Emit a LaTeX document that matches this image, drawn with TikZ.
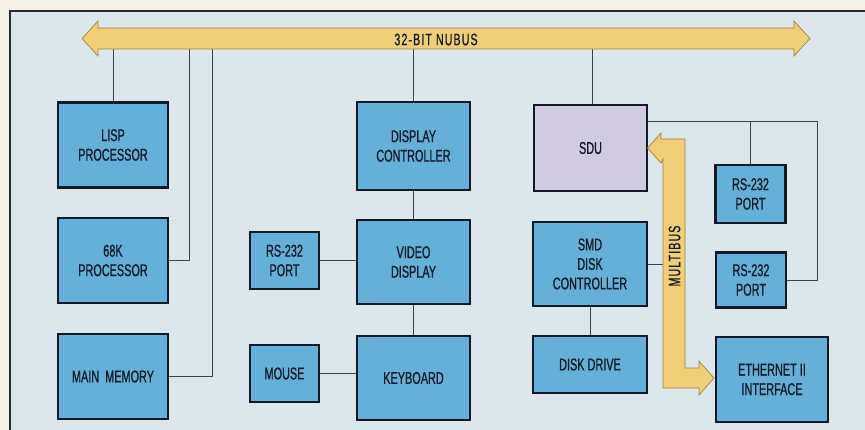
\documentclass[tikz,border=0pt]{standalone}
\usepackage{fontspec}
\setmainfont{Liberation Sans}[FakeStretch=0.64, FakeBold=0.8]
\usepackage{tikz}
\usetikzlibrary{positioning,calc}
\definecolor{paper}{RGB}{243,241,231}
\definecolor{panel}{RGB}{220,231,235}
\definecolor{frameink}{RGB}{40,44,50}
\definecolor{boxblue}{RGB}{100,176,216}
\definecolor{boxink}{RGB}{18,26,40}
\definecolor{sdulilac}{RGB}{208,203,224}
\definecolor{busyellow}{RGB}{240,206,118}
\definecolor{busedge}{RGB}{160,130,70}
\definecolor{wireink}{RGB}{60,66,72}
\tikzset{
  blk/.style={draw=boxink, fill=boxblue, line width=2.2pt, inner sep=0pt,
              minimum width=110pt, minimum height=85pt, align=center,
              text=boxink, font=\fontsize{17}{19.5}\selectfont},
  port/.style={blk, minimum width=69pt, minimum height=57pt},
  sdubox/.style={blk, fill=sdulilac},
  wire/.style={wireink, line width=0.8pt},
  bus/.style={draw=busedge, fill=busyellow, line width=0.7pt, line join=miter},
  buslab/.style={text=boxink, font=\fontsize{16.5}{17}\selectfont\addfontfeatures{LetterSpace=7}, inner sep=0pt},
}

\begin{document}
\begin{tikzpicture}[x=1pt, y=-1pt]
  \useasboundingbox (0,0) rectangle (865,430);
  \clip (0,0) rectangle (865,430);
  \fill[paper] (0,0) rectangle (865,430);
  \draw[frameink, fill=panel, line width=2pt] (10,11) rectangle (880,445);

  % left column
  \node[blk] (lisp) at (113,145) {LISP\\PROCESSOR};
  \node[blk] (cpu68) at (113,260.5) {68K\\PROCESSOR};
  \node[blk] (mainmem) at (113,376.5) {MAIN\ \ MEMORY};

  % display column
  \node[blk, minimum width=113pt, minimum height=88pt] (dispctl) at (413.5,146) {DISPLAY\\CONTROLLER};
  \node[blk, minimum width=113pt, minimum height=84pt] (video) at (413.5,262) {VIDEO\\DISPLAY};
  \node[blk, minimum width=113pt, minimum height=84pt] (keybd) at (413.5,378) {KEYBOARD};
  \node[port] (rsvid) at (284.5,260.5) {RS-232\\PORT};
  \node[port] (mouse) at (284.5,373.5) {MOUSE};

  % SDU column
  \node[sdubox, minimum width=113pt, minimum height=86pt] (sdu) at (590.5,148) {SDU};
  \node[blk, minimum width=114pt, minimum height=84pt] (smd) at (590,264) {SMD\\DISK\\CONTROLLER};
  \node[blk, minimum width=114pt, minimum height=57pt] (disk) at (590,364.5) {DISK\ DRIVE};

  % right column
  \node[port, minimum width=70pt, minimum height=58pt] (rsa) at (750.5,194) {RS-232\\PORT};
  \node[port, minimum width=70pt, minimum height=55pt] (rsb) at (751,280) {RS-232\\PORT};
  \node[blk, minimum width=112pt, minimum height=85pt] (ether) at (772,379.5) {ETHERNET II\\INTERFACE};

  % bus taps
  \coordinate (nubus) at (446,38.5);
  \coordinate (tap68) at (189,38.5);
  \coordinate (tapmem) at (212,38.5);
  \coordinate (sduout) at ($(sdu.north east)+(0,18)$);
  \coordinate (sducorner) at (817,0 |- sduout);
  \coordinate (multibus) at (674,264);

  \draw[wire] (lisp.north) -- (lisp.north |- nubus);
  \draw[wire] (cpu68.east) -| (tap68);
  \draw[wire] (mainmem.east) -| (tapmem);
  \draw[wire] (dispctl.north) -- (dispctl.north |- nubus);
  \draw[wire] (dispctl) -- (video);
  \draw[wire] (video) -- (keybd);
  \draw[wire] (rsvid.east) -- (rsvid.east -| video.west);
  \draw[wire] (mouse.east) -- (mouse.east -| keybd.west);
  \draw[wire] ([xshift=1.5pt]sdu.north) -- ([xshift=1.5pt]sdu.north |- nubus);
  \draw[wire] (sduout) -- (sducorner) |- (rsb.east);
  \draw[wire] (rsa.north) -- (rsa.north |- sduout);
  \draw[wire] (smd.east) -- (smd.east -| multibus);
  \draw[wire] (smd) -- (disk);

  % 32-bit nubus
  \draw[bus] (82,38.5) -- (98,21) -- (98,28) -- (794,28) -- (794,21)
    -- (810,38.5) -- (794,56) -- (794,49) -- (98,49) -- (98,56) -- cycle;
  \node[buslab] (nubuslab) at (436,39.5) {32-BIT NUBUS};

  % multibus
  \draw[bus] (647.5,148) -- (661,133) -- (661,139) -- (685,139) -- (685,368)
    -- (699,368) -- (699,361) -- (714,378) -- (699,395) -- (699,388)
    -- (663,388) -- (663,159) -- (661,163) -- cycle;
  \node[buslab, rotate=90] (multibuslab) at (674.5,256) {MULTIBUS};
\end{tikzpicture}
\end{document}
